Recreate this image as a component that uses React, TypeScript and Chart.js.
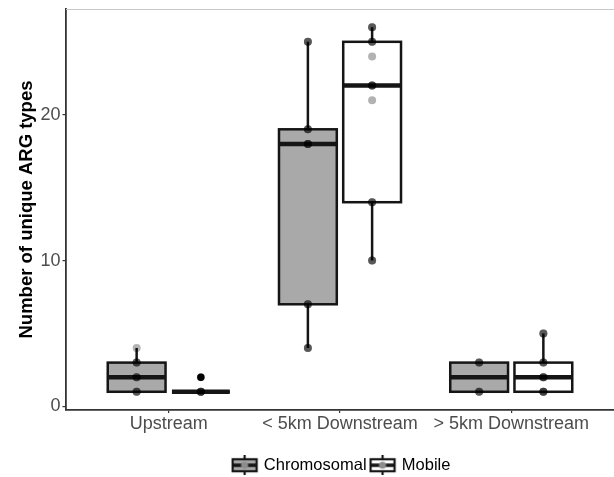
import React, { useEffect, useRef } from "react";
import { Chart, registerables } from "chart.js";

Chart.register(...registerables);

// ---------------- data ----------------
const categories = ["Upstream", "< 5km Downstream", "> 5km Downstream"];
const groups = ["Chromosomal", "Mobile"];

// box statistics per category (Chromosomal)
const chromQ1 = [1, 7, 1];
const chromMedian = [2, 18, 2];
const chromQ3 = [3, 19, 3];
const chromWhiskerLow = [1, 4, 1];
const chromWhiskerHigh = [4, 25, 3];
const chromOutliers: number[][] = [[], [], []];

// box statistics per category (Mobile)
const mobileQ1 = [1, 14, 1];
const mobileMedian = [1, 22, 2];
const mobileQ3 = [1, 25, 3];
const mobileWhiskerLow = [1, 10, 1];
const mobileWhiskerHigh = [1, 26, 5];
const mobileOutliers: number[][] = [[2], [], []];

// observed points per category: [value, number of samples]
const chromPoints = [
  [[1, 3], [2, 3], [3, 3], [4, 1]],
  [[4, 3], [7, 3], [18, 4], [19, 3], [25, 3]],
  [[1, 3], [3, 3]],
];
const mobilePoints = [
  [[1, 5], [2, 1]],
  [[10, 3], [14, 3], [21, 1], [22, 4], [24, 1], [25, 3], [26, 3]],
  [[1, 4], [2, 4], [3, 3], [5, 3]],
];

const yTicks = [0, 10, 20];
const yTitle = "Number of unique ARG types";

// ---------------- styles ----------------
const FONT = "'Liberation Sans', Arial, Helvetica, sans-serif";
const DODGE = 0.1875;
const fills = ["#a9a9a9", "#ffffff"];
const INK = "#151515";

const q1s = [chromQ1, mobileQ1];
const q3s = [chromQ3, mobileQ3];
const medians = [chromMedian, mobileMedian];
const lows = [chromWhiskerLow, mobileWhiskerLow];
const highs = [chromWhiskerHigh, mobileWhiskerHigh];
const pointSets = [chromPoints, mobilePoints];
const outlierSets = [chromOutliers, mobileOutliers];

function xFor(ci: number, gi: number) {
  return ci + 1 + (gi === 0 ? -DODGE : DODGE);
}

function makeKey(fill: string) {
  const c = document.createElement("canvas");
  c.width = 28;
  c.height = 20;
  const g = c.getContext("2d")!;
  g.strokeStyle = INK;
  g.lineWidth = 2.2;
  g.beginPath();
  g.moveTo(14, 0);
  g.lineTo(14, 20);
  g.stroke();
  g.fillStyle = fill;
  g.fillRect(2, 4, 24, 12);
  g.strokeRect(2, 4, 24, 12);
  g.lineWidth = 3.5;
  g.beginPath();
  g.moveTo(2, 10);
  g.lineTo(26, 10);
  g.stroke();
  g.fillStyle = "#8c8c8c";
  g.beginPath();
  g.arc(14, 10, 3.6, 0, Math.PI * 2);
  g.fill();
  return c;
}

function zeroPad(s: any) {
  s.paddingTop = 0;
  s.paddingBottom = 0;
  s.paddingLeft = 0;
  s.paddingRight = 0;
}

const boxPlugin = {
  id: "boxplotParts",
  afterDatasetDraw(chart: any, args: any) {
    const ds = chart.data.datasets[args.index];
    if (ds.groupIndex === undefined) return;
    const gi = ds.groupIndex;
    const ys = chart.scales.y;
    const ctx = chart.ctx;
    ctx.save();
    ctx.strokeStyle = INK;
    ctx.lineCap = "butt";
    args.meta.data.forEach((el: any, i: number) => {
      const { x, y, base, width } = el.getProps(["x", "y", "base", "width"], true);
      const top = Math.min(y, base);
      const bottom = Math.max(y, base);
      ctx.lineWidth = 2.5;
      ctx.beginPath();
      ctx.moveTo(x, top);
      ctx.lineTo(x, ys.getPixelForValue(highs[gi][i]));
      ctx.moveTo(x, bottom);
      ctx.lineTo(x, ys.getPixelForValue(lows[gi][i]));
      ctx.stroke();
      ctx.strokeRect(x - width / 2, top, width, bottom - top);
      const my = ys.getPixelForValue(medians[gi][i]);
      ctx.lineWidth = 4.5;
      ctx.beginPath();
      ctx.moveTo(x - width / 2, my);
      ctx.lineTo(x + width / 2, my);
      ctx.stroke();
    });
    ctx.restore();
  },
  afterLayout(chart: any) {
    const lg = chart.legend;
    const ca = chart.chartArea;
    if (!lg || !ca) return;
    const shift = (ca.left + ca.right) / 2 - (lg.left + lg.right) / 2 + 2;
    lg.left += shift;
    lg.right += shift;
    lg.top += 7;
    lg.bottom += 7;
  },
  afterDraw(chart: any) {
    const ca = chart.chartArea;
    const ctx = chart.ctx;
    ctx.save();
    ctx.strokeStyle = "#c8c8c8";
    ctx.lineWidth = 1;
    ctx.beginPath();
    ctx.moveTo(ca.left, ca.top + 0.5);
    ctx.lineTo(ca.right, ca.top + 0.5);
    ctx.stroke();
    ctx.restore();
  },
};

export default function App() {
  const ref = useRef<HTMLCanvasElement>(null);

  useEffect(() => {
    const canvas = ref.current!;
    const keys = fills.map((f) => makeKey(f));

    const boxDatasets = groups.map((g, gi) => ({
      type: "bar",
      label: g,
      groupIndex: gi,
      order: 1,
      data: categories.map((_, ci) => ({ x: xFor(ci, gi), y: [q1s[gi][ci], q3s[gi][ci]] })),
      backgroundColor: fills[gi],
      borderWidth: 0,
      grouped: false,
      categoryPercentage: 1,
      barPercentage: 0.9,
    }));

    const pointDatasets = groups.map((g, gi) => {
      const data: any[] = [];
      pointSets[gi].forEach((pts: number[][], ci: number) => {
        pts.forEach(([v, n]) => {
          for (let k = 0; k < n; k++) data.push({ x: xFor(ci, gi), y: v });
        });
      });
      return {
        type: "scatter",
        label: g + " points",
        order: 0,
        data,
        pointRadius: 4,
        pointBackgroundColor: "rgba(0,0,0,0.3)",
        pointBorderWidth: 0,
        pointBorderColor: "rgba(0,0,0,0)",
        showLine: false,
      };
    });

    const outlierDatasets = groups.map((g, gi) => {
      const data: any[] = [];
      outlierSets[gi].forEach((vals, ci) => vals.forEach((v) => data.push({ x: xFor(ci, gi), y: v })));
      return {
        type: "scatter",
        label: g + " outliers",
        order: 0,
        data,
        pointRadius: 3.7,
        pointBackgroundColor: "#000",
        pointBorderWidth: 0,
        showLine: false,
      };
    });

    const chart = new Chart(canvas, {
      type: "bar",
      data: { datasets: [...pointDatasets, ...outlierDatasets, ...boxDatasets] as any },
      options: {
        responsive: false,
        animation: false,
        events: [],
        devicePixelRatio: 1,
        layout: { autoPadding: false, padding: { top: 9, left: 0, right: 0, bottom: 0.5 } },
        scales: {
          x: {
            type: "linear",
            min: 0.4,
            max: 3.6,
            offset: false,
            afterBuildTicks: (s: any) => {
              s.ticks = categories.map((_, i) => ({ value: i + 1 }));
            },
            afterFit: (s: any) => {
              s.height = 35;
              zeroPad(s);
            },
            grid: { drawOnChartArea: false, drawTicks: true, tickLength: 3, color: "#333", lineWidth: 1.2, offset: false },
            border: { display: true, color: "#333", width: 1.8 },
            ticks: {
              color: "#4d4d4d",
              font: { family: FONT, size: 18 },
              padding: 0,
              autoSkip: false,
              maxRotation: 0,
              callback: (v: any) => categories[Math.round(Number(v)) - 1] ?? "",
            },
          },
          y: {
            type: "linear",
            min: -0.25,
            max: 27.25,
            beginAtZero: false,
            afterBuildTicks: (s: any) => {
              s.ticks = yTicks.map((v) => ({ value: v }));
            },
            afterFit: (s: any) => {
              s.width = 66;
              zeroPad(s);
            },
            grid: { drawOnChartArea: false, drawTicks: true, tickLength: 3.5, color: "#333", lineWidth: 1.2 },
            border: { display: true, color: "#333", width: 1.8 },
            ticks: { color: "#4d4d4d", font: { family: FONT, size: 18 }, padding: 2 },
            title: {
              display: true,
              text: yTitle,
              color: "#000",
              font: { family: FONT, size: 18.5, weight: "bold" },
              padding: { top: 16, bottom: 0 },
            },
          },
        },
        plugins: {
          tooltip: { enabled: false },
          legend: {
            position: "bottom",
            onClick: () => {},
            labels: {
              usePointStyle: true,
              pointStyleWidth: 22,
              padding: 5,
              color: "#000",
              font: { family: FONT, size: 16.5 },
              generateLabels: () =>
                groups.map((g, gi) => ({
                  text: g,
                  pointStyle: keys[gi] as any,
                  fillStyle: fills[gi],
                  strokeStyle: INK,
                  lineWidth: 0,
                  hidden: false,
                  datasetIndex: gi,
                  fontColor: "#000",
                })),
            },
          },
        },
      } as any,
      plugins: [boxPlugin as any],
    });

    return () => chart.destroy();
  }, []);

  return (
    <div style={{ position: "fixed", left: 0, top: 0, width: 614, height: 477, background: "#fff" }}>
      <canvas ref={ref} width={614} height={477} style={{ display: "block", width: 614, height: 477 }} />
    </div>
  );
}
